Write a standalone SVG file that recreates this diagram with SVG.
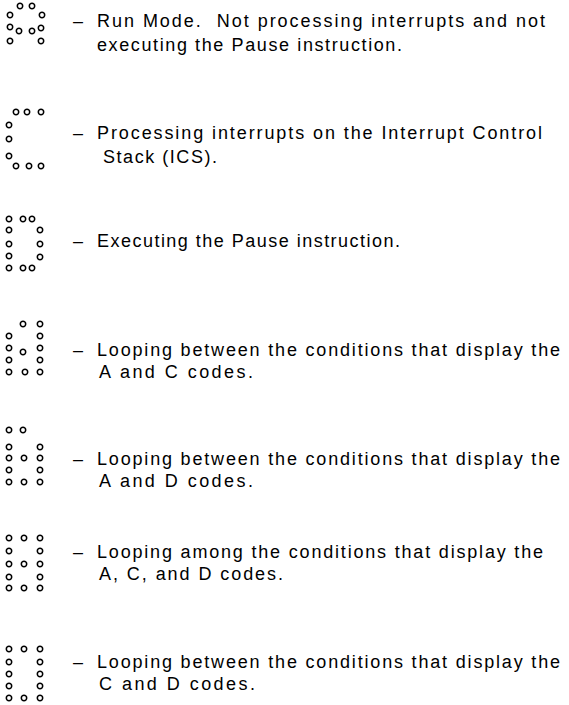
<svg xmlns="http://www.w3.org/2000/svg" width="569" height="705" viewBox="0 0 569 705">
<style>
.d{fill:#fff;stroke:#000;stroke-width:1.5}
text{font-family:"Liberation Sans","DejaVu Sans",sans-serif;font-size:18px;fill:#000;white-space:pre}
</style>
<defs><circle id="o" r="2.7" class="d"/></defs>
<rect width="569" height="705" fill="#fff"/>
<g id="code1">
<use href="#o" x="20" y="6"/><use href="#o" x="32" y="6"/>
<use href="#o" x="10" y="15"/><use href="#o" x="42" y="15"/>
<use href="#o" x="10" y="27"/><use href="#o" x="19" y="31"/><use href="#o" x="32" y="31"/><use href="#o" x="41" y="28"/>
<use href="#o" x="10" y="41"/><use href="#o" x="41" y="41"/>
<text x="73" y="27">–</text>
<text x="97" y="27" textLength="448" lengthAdjust="spacing">Run Mode.  Not processing interrupts and not</text>
<text x="97" y="51" textLength="305" lengthAdjust="spacing">executing the Pause instruction.</text>
</g>
<g id="code2">
<use href="#o" x="16" y="112"/><use href="#o" x="27" y="112"/><use href="#o" x="41" y="112"/>
<use href="#o" x="9" y="125"/><use href="#o" x="9" y="139"/><use href="#o" x="9" y="156"/>
<use href="#o" x="16" y="166"/><use href="#o" x="29" y="166"/><use href="#o" x="41" y="166"/>
<text x="73" y="139">–</text>
<text x="97" y="139" textLength="445" lengthAdjust="spacing">Processing interrupts on the Interrupt Control</text>
<text x="103" y="163" textLength="114" lengthAdjust="spacing">Stack (ICS).</text>
</g>
<g id="code3">
<use href="#o" x="9" y="219"/><use href="#o" x="23" y="219"/><use href="#o" x="32" y="219"/>
<use href="#o" x="9" y="230"/><use href="#o" x="40" y="230"/>
<use href="#o" x="9" y="244"/><use href="#o" x="40" y="244"/>
<use href="#o" x="9" y="256"/><use href="#o" x="40" y="257"/>
<use href="#o" x="9" y="268"/><use href="#o" x="23" y="268"/><use href="#o" x="32" y="268"/>
<text x="73" y="247">–</text>
<text x="97" y="247" textLength="303" lengthAdjust="spacing">Executing the Pause instruction.</text>
</g>
<g id="code4">
<use href="#o" x="23" y="324"/><use href="#o" x="40" y="324"/>
<use href="#o" x="9" y="336"/><use href="#o" x="40" y="336"/>
<use href="#o" x="9" y="348"/><use href="#o" x="23" y="352"/><use href="#o" x="40" y="348"/>
<use href="#o" x="9" y="360"/><use href="#o" x="40" y="360"/>
<use href="#o" x="9" y="372"/><use href="#o" x="25" y="372"/><use href="#o" x="40" y="372"/>
<text x="73" y="356">–</text>
<text x="97" y="356" textLength="463" lengthAdjust="spacing">Looping between the conditions that display the</text>
<text x="99" y="378" textLength="154" lengthAdjust="spacing">A and C codes.</text>
</g>
<g id="code5">
<use href="#o" x="9" y="430"/><use href="#o" x="23" y="430"/>
<use href="#o" x="9" y="447"/><use href="#o" x="40" y="447"/>
<use href="#o" x="9" y="458"/><use href="#o" x="24" y="458"/><use href="#o" x="40" y="458"/>
<use href="#o" x="9" y="470"/><use href="#o" x="40" y="470"/>
<use href="#o" x="9" y="482"/><use href="#o" x="24" y="482"/><use href="#o" x="40" y="482"/>
<text x="73" y="465">–</text>
<text x="97" y="465" textLength="463" lengthAdjust="spacing">Looping between the conditions that display the</text>
<text x="99" y="487" textLength="154" lengthAdjust="spacing">A and D codes.</text>
</g>
<g id="code6">
<use href="#o" x="9" y="538"/><use href="#o" x="24" y="538"/><use href="#o" x="40" y="538"/>
<use href="#o" x="9" y="551"/><use href="#o" x="40" y="551"/>
<use href="#o" x="9" y="564"/><use href="#o" x="24" y="564"/><use href="#o" x="40" y="564"/>
<use href="#o" x="9" y="577"/><use href="#o" x="40" y="577"/>
<use href="#o" x="9" y="588"/><use href="#o" x="24" y="588"/><use href="#o" x="40" y="588"/>
<text x="73" y="558">–</text>
<text x="97" y="558" textLength="446" lengthAdjust="spacing">Looping among the conditions that display the</text>
<text x="99" y="580" textLength="184" lengthAdjust="spacing">A, C, and D codes.</text>
</g>
<g id="code7">
<use href="#o" x="9" y="649"/><use href="#o" x="24" y="649"/><use href="#o" x="40" y="649"/>
<use href="#o" x="9" y="662"/><use href="#o" x="40" y="662"/>
<use href="#o" x="9" y="674"/><use href="#o" x="40" y="674"/>
<use href="#o" x="9" y="686"/><use href="#o" x="40" y="686"/>
<use href="#o" x="9" y="698"/><use href="#o" x="24" y="698"/><use href="#o" x="40" y="698"/>
<text x="73" y="668">–</text>
<text x="97" y="668" textLength="463" lengthAdjust="spacing">Looping between the conditions that display the</text>
<text x="99" y="690" textLength="156" lengthAdjust="spacing">C and D codes.</text>
</g>
</svg>
